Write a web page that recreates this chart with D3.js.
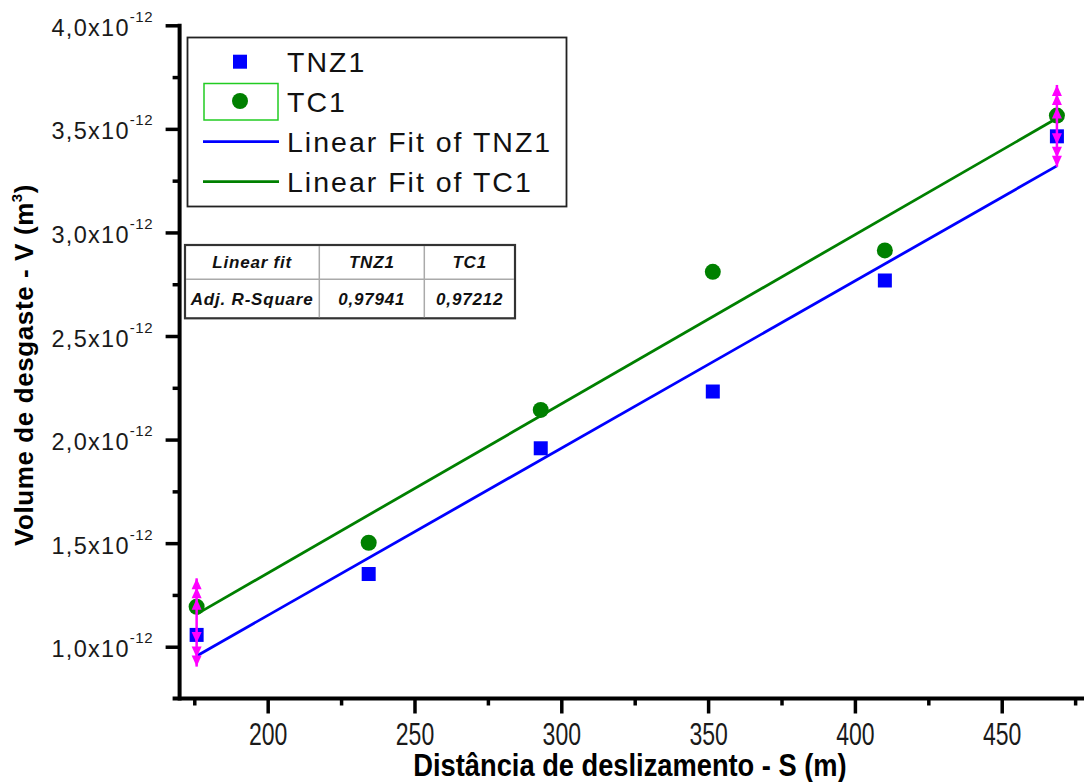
<!DOCTYPE html>
<html>
<head>
<meta charset="utf-8">
<script src="https://cdnjs.cloudflare.com/ajax/libs/d3/7.8.5/d3.min.js"></script>
<style>
  body { margin: 0; background: #fff; }
  svg { display: block; overflow: hidden; font-family: Arial, "Liberation Sans", sans-serif; }
</style>
</head>
<body>
<div id="chart"></div>
<script>

// data: sliding distance (m) vs wear volume (m^3)
var distance = [175.8, 234.4, 293.0, 351.6, 410.2, 468.8];
var tnz1 = [1.057e-12, 1.351e-12, 1.958e-12, 2.232e-12, 2.768e-12, 3.464e-12];
var tc1  = [1.193e-12, 1.502e-12, 2.143e-12, 2.810e-12, 2.913e-12, 3.564e-12];

// magenta error bars (only first and last distance)
var errDistance = [175.8, 468.8];
var errLow  = [0.904e-12, 3.317e-12];
var errHigh = [1.330e-12, 3.712e-12];

var xMajor = [200, 250, 300, 350, 400, 450];
var xMinor = [175, 225, 275, 325, 375, 425, 475];
var yMajor = [1.0e-12, 1.5e-12, 2.0e-12, 2.5e-12, 3.0e-12, 3.5e-12, 4.0e-12];
var yMinor = [1.25e-12, 1.75e-12, 2.25e-12, 2.75e-12, 3.25e-12, 3.75e-12];

var legendLabels = ["TNZ1", "TC1", "Linear Fit of TNZ1", "Linear Fit of TC1"];
var tableHeader = ["Linear fit", "TNZ1", "TC1"];
var tableRow = ["Adj. R-Square", "0,97941", "0,97212"];

var width = 1084, height = 782;

var svg = d3.select("#chart").append("svg")
  .attr("width", width)
  .attr("height", height);

var x = d3.scaleLinear().domain([170, 480]).range([179.6, 1089.8]);
var y = d3.scaleLinear().domain([0.75e-12, 4.0e-12]).range([698.5, 25.3]);

var blue = "#0000ff", green = "#008000", magenta = "#ff00ff";

////// axes //////
var yAxis = svg.append("g").attr("transform", "translate(" + x(170) + ",0)")
  .call(d3.axisLeft(y).tickValues(yMajor).tickSize(14).tickSizeOuter(0).tickPadding(12.6));
yAxis.select(".domain").remove();
yAxis.selectAll(".tick line").attr("stroke", "#000").attr("stroke-width", 3.5);
yAxis.selectAll(".tick text").each(function(d) {
  var t = d3.select(this).text("")
    .attr("dy", "0.43em")
    .attr("fill", "#1a1a1a")
    .style("font-size", "23.5px")
    .style("letter-spacing", "1.3px");
  t.append("tspan").text((d / 1e-12).toFixed(1).replace(".", ",") + "x10");
  t.append("tspan").attr("dy", -14).style("font-size", "15px").style("letter-spacing", "0.5px").text("-12");
});
svg.append("g").attr("transform", "translate(" + x(170) + ",0)")
  .call(d3.axisLeft(y).tickValues(yMinor).tickSize(7).tickFormat(""))
  .call(function(g) { g.select(".domain").remove(); })
  .selectAll("line").attr("stroke", "#000").attr("stroke-width", 3.5);

var xAxis = svg.append("g").attr("transform", "translate(0," + y(0.75e-12) + ")")
  .call(d3.axisBottom(x).tickValues(xMajor).tickSize(15).tickSizeOuter(0).tickPadding(9));
xAxis.select(".domain").remove();
xAxis.selectAll(".tick line").attr("stroke", "#000").attr("stroke-width", 3.5);
xAxis.selectAll(".tick text")
  .attr("fill", "#1a1a1a")
  .style("font-size", "32px")
  .attr("transform", "scale(0.72,1)");
svg.append("g").attr("transform", "translate(0," + y(0.75e-12) + ")")
  .call(d3.axisBottom(x).tickValues(xMinor).tickSize(7).tickFormat(""))
  .call(function(g) { g.select(".domain").remove(); })
  .selectAll("line").attr("stroke", "#000").attr("stroke-width", 3.5);

// axis lines
svg.append("line")
  .attr("x1", x(170)).attr("x2", x(170))
  .attr("y1", y(4.0e-12) - 1.5).attr("y2", y(0.75e-12) + 2)
  .attr("stroke", "#000").attr("stroke-width", 4);
svg.append("line")
  .attr("x1", x(170) - 7).attr("x2", width)
  .attr("y1", y(0.75e-12)).attr("y2", y(0.75e-12))
  .attr("stroke", "#000").attr("stroke-width", 4);

// axis titles
svg.append("g").attr("transform", "translate(630,765)")
  .append("text")
  .attr("text-anchor", "middle")
  .attr("dy", "0.36em")
  .attr("transform", "scale(0.88,1)")
  .style("font-size", "31px").style("font-weight", "bold")
  .text("Distância de deslizamento - S (m)");

var yTitle = svg.append("text")
  .attr("transform", "translate(33,365) rotate(-90)")
  .attr("text-anchor", "middle")
  .style("font-size", "26px").style("font-weight", "bold")
  .style("letter-spacing", "0.6px");
yTitle.append("tspan").text("Volume de desgaste - V (m");
yTitle.append("tspan").attr("dy", -11).style("font-size", "15px").text("3");
yTitle.append("tspan").attr("dy", 11).text(")");

////// fit lines //////
function linearFit(xs, ys) {
  var mx = d3.mean(xs), my = d3.mean(ys);
  var sxy = d3.sum(xs, function(v, i) { return (v - mx) * (ys[i] - my); });
  var sxx = d3.sum(xs, function(v) { return (v - mx) * (v - mx); });
  var b = sxy / sxx;
  return function(v) { return my + b * (v - mx); };
}
var fitLine = d3.line().x(function(d) { return x(d[0]); }).y(function(d) { return y(d[1]); });
var xEnds = d3.extent(distance);
[[tnz1, blue], [tc1, green]].forEach(function(s) {
  var f = linearFit(distance, s[0]);
  svg.append("path")
    .attr("d", fitLine(xEnds.map(function(v) { return [v, f(v)]; })))
    .attr("fill", "none")
    .attr("stroke", s[1])
    .attr("stroke-width", 2.8);
});

////// points //////
svg.selectAll(".sq").data(distance).enter().append("rect")
  .attr("class", "sq")
  .attr("x", function(d) { return x(d) - 7; })
  .attr("y", function(d, i) { return y(tnz1[i]) - 7; })
  .attr("width", 14).attr("height", 14)
  .attr("fill", blue);

svg.selectAll(".dot").data(distance).enter().append("circle")
  .attr("class", "dot")
  .attr("cx", function(d) { return x(d); })
  .attr("cy", function(d, i) { return y(tc1[i]); })
  .attr("r", 8)
  .attr("fill", green);

////// error bars //////
var upArrow = "M0,-7L5,4L-5,4Z", downArrow = "M0,7L5,-4L-5,-4Z";
errDistance.forEach(function(d, i) {
  var k = distance.indexOf(d);
  var g = svg.append("g").attr("fill", magenta);
  g.append("line")
    .attr("x1", x(d)).attr("x2", x(d))
    .attr("y1", y(errLow[i])).attr("y2", y(errHigh[i]))
    .attr("stroke", magenta).attr("stroke-width", 2.5);
  g.append("path").attr("d", upArrow).attr("transform", "translate(" + x(d) + "," + (y(errHigh[i]) + 7) + ")");
  g.append("path").attr("d", upArrow).attr("transform", "translate(" + x(d) + "," + (y(errHigh[i]) + 16) + ")");
  g.append("path").attr("d", upArrow).attr("transform", "translate(" + x(d) + "," + (y(tc1[k]) - 1) + ")");
  g.append("path").attr("d", downArrow).attr("transform", "translate(" + x(d) + "," + (y(tnz1[k]) + 1) + ")");
  g.append("path").attr("d", downArrow).attr("transform", "translate(" + x(d) + "," + (y(errLow[i]) - 16) + ")");
  g.append("path").attr("d", downArrow).attr("transform", "translate(" + x(d) + "," + (y(errLow[i]) - 7) + ")");
});

////// legend //////
var legend = svg.append("g");
legend.append("rect")
  .attr("x", 187.5).attr("y", 37.5).attr("width", 379).attr("height", 169)
  .attr("fill", "#fff").attr("stroke", "#222").attr("stroke-width", 1.8);
var rowY = [61.7, 101, 141.7, 181.7];
legend.append("rect").attr("x", 233).attr("y", rowY[0] - 7).attr("width", 14).attr("height", 14).attr("fill", blue);
legend.append("rect").attr("x", 204).attr("y", 83.5).attr("width", 74).attr("height", 36.5)
  .attr("fill", "none").attr("stroke", "#22cc22").attr("stroke-width", 1.5);
legend.append("circle").attr("cx", 240).attr("cy", rowY[1]).attr("r", 8).attr("fill", green);
legend.append("line").attr("x1", 203).attr("x2", 279).attr("y1", rowY[2]).attr("y2", rowY[2])
  .attr("stroke", blue).attr("stroke-width", 2.8);
legend.append("line").attr("x1", 203).attr("x2", 279).attr("y1", rowY[3]).attr("y2", rowY[3])
  .attr("stroke", green).attr("stroke-width", 2.8);
legend.selectAll(".lt").data(legendLabels).enter().append("text")
  .attr("x", 287)
  .attr("y", function(d, i) { return rowY[i] + 10.5; })
  .style("font-size", "28.5px")
  .style("letter-spacing", "2px")
  .attr("fill", "#111")
  .text(function(d) { return d; });

////// fit table //////
var table = svg.append("g");
var colX = [185, 319.3, 424.3, 515];
var rowsY = [245, 279.3, 318.3];
table.append("rect")
  .attr("x", colX[0]).attr("y", rowsY[0])
  .attr("width", colX[3] - colX[0]).attr("height", rowsY[2] - rowsY[0])
  .attr("fill", "#fff").attr("stroke", "#333").attr("stroke-width", 2.2);
[colX[1], colX[2]].forEach(function(cx) {
  table.append("line").attr("x1", cx).attr("x2", cx).attr("y1", rowsY[0] + 1).attr("y2", rowsY[2] - 1)
    .attr("stroke", "#aaa").attr("stroke-width", 1.5);
});
table.append("line").attr("x1", colX[0] + 1).attr("x2", colX[3] - 1).attr("y1", rowsY[1]).attr("y2", rowsY[1])
  .attr("stroke", "#aaa").attr("stroke-width", 1.5);
[tableHeader, tableRow].forEach(function(row, r) {
  row.forEach(function(txt, c) {
    table.append("text")
      .attr("x", (colX[c] + colX[c + 1]) / 2)
      .attr("y", (rowsY[r] + rowsY[r + 1]) / 2)
      .attr("dy", "0.36em")
      .attr("text-anchor", "middle")
      .style("font-size", "17px")
      .style("font-weight", "bold")
      .style("font-style", "italic")
      .style("letter-spacing", "0.8px")
      .attr("fill", "#111")
      .text(txt);
  });
});

</script>
</body>
</html>
